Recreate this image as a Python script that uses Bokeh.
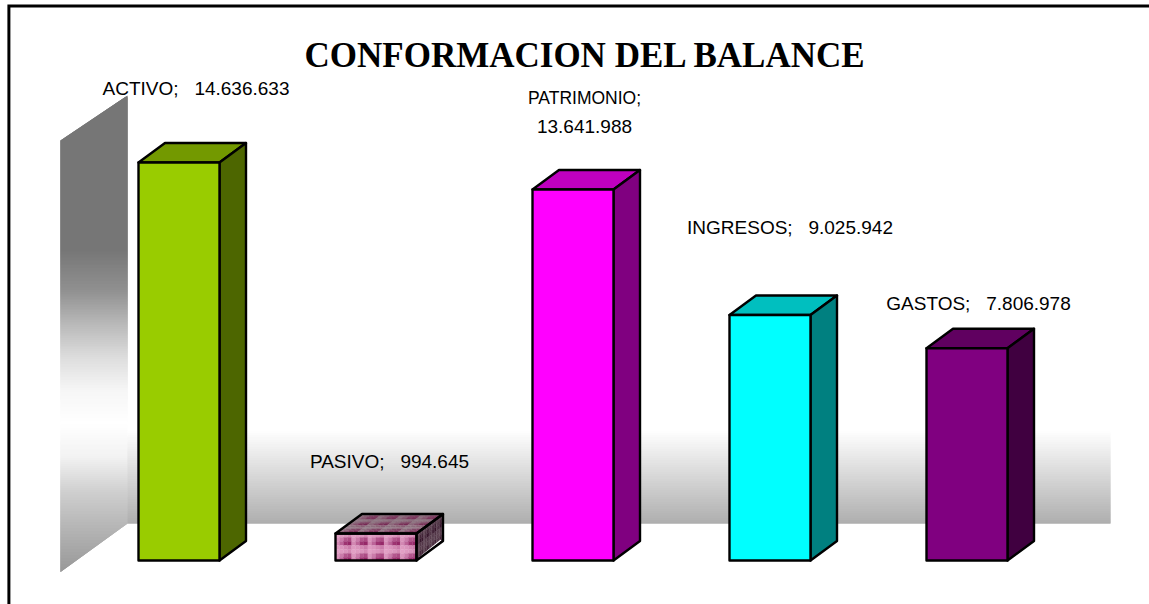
from bokeh.plotting import figure
from bokeh.models import Range1d
from bokeh.core.properties import value
from bokeh.embed import file_html
from bokeh.resources import INLINE

# ---- data ----
categories = ["ACTIVO", "PASIVO", "PATRIMONIO", "INGRESOS", "GASTOS"]
values = [14636633, 994645, 13641988, 9025942, 7806978]
value_labels = ["14.636.633", "994.645", "13.641.988", "9.025.942", "7.806.978"]
title_text = "CONFORMACION DEL BALANCE"

# ---- styles ----
front_colors = {"ACTIVO": "#99CC00", "PATRIMONIO": "#FF00FF", "INGRESOS": "#00FFFF", "GASTOS": "#800080"}
top_colors = {"ACTIVO": "#739900", "PATRIMONIO": "#BF00BF", "INGRESOS": "#00BFBF", "GASTOS": "#600060"}
side_colors = {"ACTIVO": "#4D6600", "PATRIMONIO": "#800080", "INGRESOS": "#008080", "GASTOS": "#400040"}

# ---- layout (pixels of the 1149x604 picture) ----
W, H = 1149, 604
BASE_PX, SCALE = 560.0, 398.0 / 14636633
X0_PX, STEP_PX, BAR_PX = 178.5, 197.0, 81.0
DX, DY = 26.5, 19.5

def xd(px):
    return (px - X0_PX) / STEP_PX

def yd(py):
    return (BASE_PX - py) / SCALE

p = figure(width=W, height=H, output_backend="svg", toolbar_location=None,
           x_range=Range1d(xd(0), xd(W)), y_range=Range1d(yd(H), yd(0)),
           min_border=0, outline_line_color=None, background_fill_color="white")
p.margin = (0, 0, 0, 0)
p.xaxis.visible = False
p.yaxis.visible = False
p.grid.visible = False

def lerp(stops, y):
    for (y0, c0), (y1, c1) in zip(stops, stops[1:]):
        if y <= y1:
            t = max(0.0, (y - y0) / (y1 - y0))
            return c0 + (c1 - c0) * t
    return stops[-1][1]

def hex_grey(v):
    g = int(round(v))
    return f"#{g:02x}{g:02x}{g:02x}"

# left wall: gradient in horizontal bands, clipped to the parallelogram
wall_stops = [(95, 0x77), (250, 0x77), (290, 0x90), (323, 0xB8), (357, 0xDD), (390, 0xF6), (423, 0xFF),
              (457, 0xF2), (490, 0xD0), (523, 0xB8), (571, 0x98)]
WL, WR = 60.0, 127.0
TL, TR, BR, BL = 140.0, 95.0, 523.0, 571.5

def left_edge(y):
    if y < TL:
        return WR - (y - TR) / (TL - TR) * (WR - WL)
    return WL

def right_edge(y):
    if y > BR:
        return WR - (y - BR) / (BL - BR) * (WR - WL)
    return WR

# each band reaches below its row, the next band paints over it: no seams
lx, ly, lc = [], [], []
for yy in range(int(TR), int(BL) + 1):
    start = max(yy, TR)
    y2 = min(yy + 3.0, BL)
    if start >= BL:
        break
    pts = [(left_edge(start), start), (right_edge(start), start)]
    if start < TL < y2:
        pts = pts + [(right_edge(y2), y2), (WL, y2), (WL, TL)]
    elif start < BR < y2:
        pts = pts + [(WR, BR), (right_edge(y2), y2), (WL, y2)]
    else:
        pts = pts + [(right_edge(y2), y2), (left_edge(y2), y2)]
    lx.append([xd(a) for a, _ in pts])
    ly.append([yd(b) for _, b in pts])
    lc.append(hex_grey(lerp(wall_stops, start + 0.5)))
p.patches(lx, ly, fill_color=lc, line_color=None)

# back wall: white fading to grey at the floor line
back_stops = [(430, 0xFF), (523, 0xAE)]
bl, br, bt, bb, bc = [], [], [], [], []
for yy in range(430, 523):
    bl.append(xd(WR)); br.append(xd(1110)); bt.append(yd(yy)); bb.append(yd(min(yy + 2, 523)))
    bc.append(hex_grey(lerp(back_stops, yy + 0.5)))
p.quad(left=bl, right=br, top=bt, bottom=bb, fill_color=bc, line_color=None)

# textured tile shades (0 light ... 1 dark)
tile = [[0.00, 0.05, 0.10, 0.20],
        [0.10, 0.30, 0.60, 0.70],
        [0.20, 0.50, 0.90, 1.00],
        [0.05, 0.10, 0.20, 0.30]]

def mix(a, b, t, k=1.0):
    return "#" + "".join(f"{int(round((a[i] + (b[i] - a[i]) * t) * k)):02x}" for i in range(3))

def textured_face(origin, u_vec, v_vec, nu, nv, tile_u, tile_v, light, dark, k):
    xs, ys, cs = [], [], []
    for iu in range(nu):
        for iv in range(nv):
            for a in range(4):
                for b in range(4):
                    u0 = (iu + a / 4) * tile_u
                    u1 = (iu + (a + 1) / 4) * tile_u
                    v0 = (iv + b / 4) * tile_v
                    v1 = (iv + (b + 1) / 4) * tile_v
                    if u0 >= 1 or v0 >= 1:
                        continue
                    u1, v1 = min(u1, 1), min(v1, 1)
                    quad = [(u0, v0), (u1, v0), (u1, v1), (u0, v1)]
                    xs.append([xd(origin[0] + s * u_vec[0] + r * v_vec[0]) for s, r in quad])
                    ys.append([yd(origin[1] + s * u_vec[1] + r * v_vec[1]) for s, r in quad])
                    cs.append(mix(light, dark, tile[b][a], k))
    p.patches(xs, ys, fill_color=cs, line_color=cs, line_width=0.3)

LIGHT, DARK = (226, 160, 198), (150, 40, 105)

# bars
for i, (cat, val) in enumerate(zip(categories, values)):
    half = BAR_PX / 2 / STEP_PX
    ddx = DX / STEP_PX
    ddy = DY / SCALE
    left, right = i - half, i + half
    top_xs = [left, right, right + ddx, left + ddx]
    top_ys = [val, val, val + ddy, val + ddy]
    side_xs = [right, right + ddx, right + ddx, right]
    side_ys = [0, ddy, val + ddy, val]
    if cat in front_colors:
        p.patch(top_xs, top_ys, fill_color=top_colors[cat], line_color="black", line_width=2.4, line_join="round")
        p.patch(side_xs, side_ys, fill_color=side_colors[cat], line_color="black", line_width=2.4, line_join="round")
        p.quad(left=left, right=right, bottom=0, top=val, fill_color=front_colors[cat], line_color="black", line_width=2.4, line_join="round")
    else:
        lpx = X0_PX + STEP_PX * i - BAR_PX / 2
        rpx = lpx + BAR_PX
        tpx = BASE_PX - val * SCALE
        textured_face((lpx, tpx), (BAR_PX, 0), (0, BASE_PX - tpx), 5, 2, 0.2, 16 / (BASE_PX - tpx), LIGHT, DARK, 1.0)
        textured_face((lpx + DX, tpx - DY), (BAR_PX, 0), (-DX, DY), 4, 3, 0.25, 0.34, (170, 140, 155), (140, 50, 100), 0.85)
        textured_face((rpx, tpx), (DX, -DY), (0, BASE_PX - tpx), 4, 2, 0.25, 0.6, (105, 75, 92), (60, 25, 48), 0.9)
        p.line([xd(rpx + 3), xd(rpx + DX - 2)], [yd(BASE_PX - 3), yd(BASE_PX - DY - 1)], line_color="white", line_width=1.2)
        p.patch(top_xs, top_ys, fill_color=None, line_color="black", line_width=2.4, line_join="round")
        p.patch(side_xs, side_ys, fill_color=None, line_color="black", line_width=2.4, line_join="round")
        p.quad(left=left, right=right, bottom=0, top=val, fill_color=None, line_color="black", line_width=2.4, line_join="round")

# frame (cut off by the page on the right and at the bottom)
p.line([xd(8.4), xd(8.4), xd(W)], [yd(H), yd(5.5), yd(5.5)], line_color="black", line_width=3, line_join="miter")

# labels
GAP = "\u00a0\u00a0\u00a0"
label_lines = [[f"{categories[0]};{GAP}{value_labels[0]}"],
               [f"{categories[1]};{GAP}{value_labels[1]}"],
               [f"{categories[2]};", value_labels[2]],
               [f"{categories[3]};{GAP}{value_labels[3]}"],
               [f"{categories[4]};{GAP}{value_labels[4]}"]]
label_centre_px = [195.5, 389, 584, 789.5, 978]
label_base_px = [[87.5], [460.5], [97.5, 125.5], [226.5], [302.5]]
label_size_px = [["19px"], ["19px"], ["17.5px", "19px"], ["19px"], ["19px"]]
for lines, cx, bases, sizes in zip(label_lines, label_centre_px, label_base_px, label_size_px):
    for s, b, fs in zip(lines, bases, sizes):
        p.text([xd(cx)], [yd(b)], text=[s], text_font=value("Liberation Sans"), text_font_size=fs,
               text_color="#000000", text_align="center", text_baseline="alphabetic")

p.text([xd(585)], [yd(55)], text=[title_text], text_font=value("Liberation Serif"), text_font_size="35px",
       text_font_style="bold", text_color="black", text_align="center", text_baseline="alphabetic")

open("out.html", "w").write(file_html(p, INLINE))
